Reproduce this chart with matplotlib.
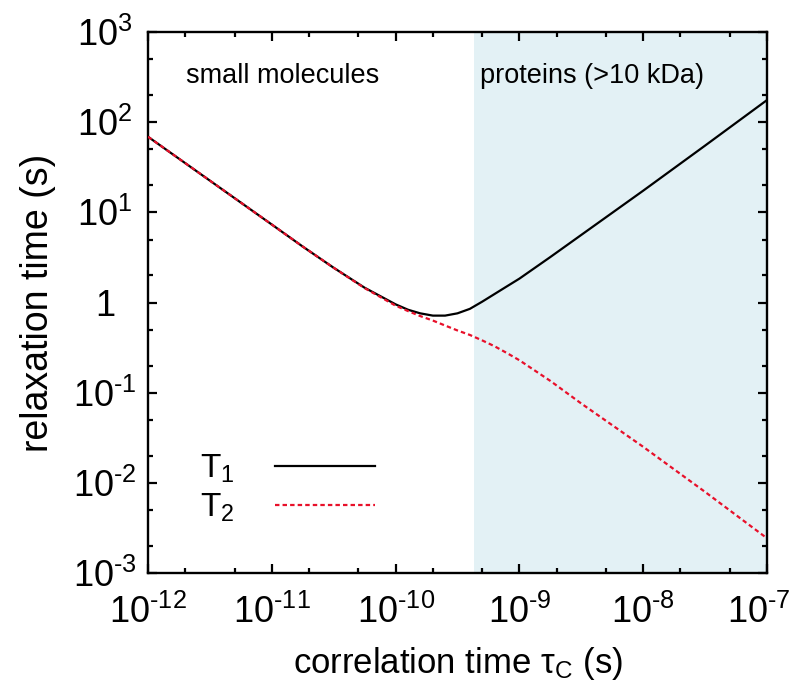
import matplotlib.pyplot as plt
import matplotlib.ticker as mticker
import matplotlib.transforms as mtransforms
import numpy as np

plt.rcParams['font.family'] = ['Liberation Sans', 'DejaVu Sans']
plt.rcParams['mathtext.fontset'] = 'custom'
plt.rcParams['mathtext.rm'] = 'Liberation Sans'
plt.rcParams['mathtext.it'] = 'Liberation Sans:italic'

# correlation time (s) and relaxation times (s)
tau = [1e-12, 3.16e-12, 1e-11, 1.78e-11, 3.16e-11, 5.62e-11, 1e-10, 1.26e-10,
       1.58e-10, 2.0e-10, 2.51e-10, 3.16e-10, 3.98e-10, 5.01e-10, 6.31e-10,
       7.94e-10, 1e-9, 1.78e-9, 3.16e-9, 1e-8, 3.16e-8, 1e-7]
T1 = [69.0, 22.5, 7.33, 4.17, 2.43, 1.46, 0.955, 0.832,
      0.759, 0.716, 0.716, 0.759, 0.851, 1.023, 1.245,
      1.514, 1.841, 3.20, 5.62, 17.4, 55.0, 176.0]
T2 = [69.0, 22.5, 7.33, 4.17, 2.43, 1.445, 0.923, 0.804,
      0.708, 0.631, 0.556, 0.490, 0.437, 0.380, 0.327,
      0.275, 0.229, 0.135, 0.0759, 0.0251, 0.00794, 0.00243]

protein_start = 4.3e-10
xticks = [1e-12, 1e-11, 1e-10, 1e-9, 1e-8, 1e-7]
xlabels = [r'10$^{\text{-12}}$', r'10$^{\text{-11}}$', r'10$^{\text{-10}}$',
           r'10$^{\text{-9}}$', r'10$^{\text{-8}}$', r'10$^{\text{-7}}$']
yticks = [1e3, 1e2, 1e1, 1, 1e-1, 1e-2, 1e-3]
ylabels = ['10$^{3}$', '10$^{2}$', '10$^{1}$', '1',
           r'10$^{\text{-1}}$', r'10$^{\text{-2}}$', r'10$^{\text{-3}}$']

fig = plt.figure(figsize=(7.94, 6.83), dpi=100)
ax = fig.add_axes([0.1864, 0.161, 0.7796, 0.7921])

ax.axvspan(protein_start, 1e-7, color='#e3f1f5', lw=0, zorder=0)
ax.plot(tau, T1, color='black', lw=1.6, label='T$_{1}$', zorder=3)
ax.plot(tau, T2, color='#e8102a', lw=1.6, dashes=(2.0, 1.4), label='T$_{2}$', zorder=4)

ax.set_xscale('log')
ax.set_yscale('log')
ax.set_xlim(1e-12, 1e-7)
ax.set_ylim(1e-3, 1e3)

ax.set_xticks(xticks)
ax.set_xticklabels(xlabels)
ax.set_yticks(yticks)
ax.set_yticklabels(ylabels, ha='center')
ax.xaxis.set_minor_locator(mticker.LogLocator(base=10, subs=[2, 5]))
ax.yaxis.set_minor_locator(mticker.LogLocator(base=10, subs=[2, 5]))
ax.xaxis.set_minor_formatter(mticker.NullFormatter())
ax.yaxis.set_minor_formatter(mticker.NullFormatter())

ax.tick_params(which='both', direction='in', top=True, right=True, width=1.6)
ax.tick_params(which='major', length=6.5, labelsize=26)
ax.tick_params(axis='x', which='major', pad=16)
ax.tick_params(axis='y', which='major', pad=31)
ax.tick_params(which='minor', length=3.6)
for s in ax.spines.values():
    s.set_linewidth(1.7)

# last x label sits a little left so it stays inside the figure
last = ax.get_xticklabels()[-1]
last.set_transform(last.get_transform() +
                   mtransforms.ScaledTranslation(-6 / 72, 0, fig.dpi_scale_trans))

ax.set_xlabel(r'correlation time $\mathregular{\tau_C}$ (s)', fontsize=25, labelpad=10)
ax.set_ylabel('relaxation time (s)', fontsize=27, labelpad=12)

ax.text(0.061, 0.906, 'small molecules', transform=ax.transAxes, fontsize=19.5,
        va='baseline', ha='left')
ax.text(0.536, 0.906, 'proteins (>10 kDa)', transform=ax.transAxes, fontsize=19.5,
        va='baseline', ha='left')

leg = ax.legend(loc='lower left', bbox_to_anchor=(0.036, 0.035), frameon=False,
                markerfirst=False, fontsize=24, handlelength=3.0,
                labelspacing=0.2, handletextpad=1.2)

fig.savefig('out.png', dpi=100)
